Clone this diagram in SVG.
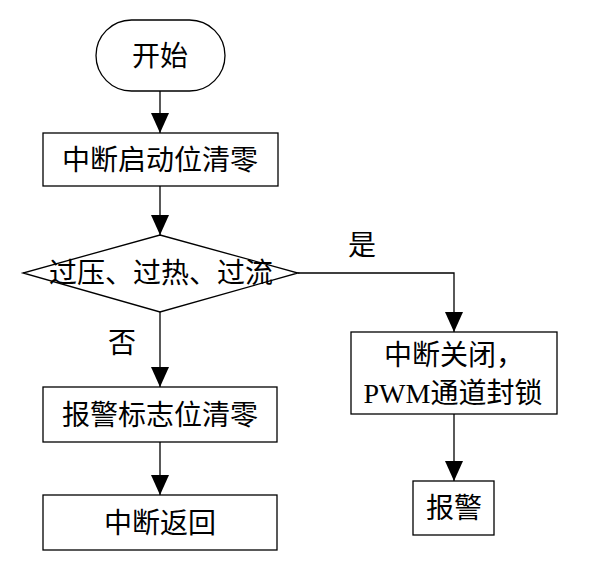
<svg xmlns="http://www.w3.org/2000/svg" width="589" height="571" viewBox="0 0 589 571">
<defs>
<style>
.shape{fill:#fff;stroke:#000;stroke-width:1.3}
.t{font-family:"Liberation Serif","Noto Sans CJK SC",serif;font-size:28px;fill:#000;text-anchor:middle;dominant-baseline:central}
.c{fill:none;stroke:#000;stroke-width:1.3}
</style>
<marker id="arr" markerUnits="userSpaceOnUse" markerWidth="20" markerHeight="20" viewBox="0 0 20 18" refX="20" refY="9" orient="auto">
<path d="M0,0 L20,9 L0,18 Z" fill="#000"/>
</marker>
</defs>
<g id="connectors">
<path class="c" d="M160,91 V133" marker-end="url(#arr)"/>
<path class="c" d="M160,186 V235" marker-end="url(#arr)"/>
<path class="c" d="M160,312 V387" marker-end="url(#arr)"/>
<path class="c" d="M160,442 V495" marker-end="url(#arr)"/>
<path class="c" d="M298,273 H454 V332" marker-end="url(#arr)"/>
<path class="c" d="M454,414 V481" marker-end="url(#arr)"/>
<text class="t" x="362" y="245">是</text>
<text class="t" x="122" y="343">否</text>
</g>
<g id="start">
<rect class="shape" x="96" y="20" width="129" height="71" rx="35.5" ry="35.5"/>
<text class="t" x="160" y="56">开始</text>
</g>
<g id="clear">
<rect class="shape" x="43" y="133" width="235" height="53"/>
<text class="t" x="160" y="160">中断启动位清零</text>
</g>
<g id="decision">
<polygon class="shape" points="160,235 298,273 160,312 23,273"/>
<text class="t" x="161" y="273">过压、过热、过流</text>
</g>
<g id="close">
<rect class="shape" x="351" y="332" width="206" height="82"/>
<text class="t" x="454" y="355">中断关闭，</text>
<text class="t" x="453" y="393">PWM通道封锁</text>
</g>
<g id="alarmclear">
<rect class="shape" x="43" y="387" width="234" height="55"/>
<text class="t" x="160" y="415">报警标志位清零</text>
</g>
<g id="return">
<rect class="shape" x="43" y="495" width="234" height="55"/>
<text class="t" x="160" y="523">中断返回</text>
</g>
<g id="alarm">
<rect class="shape" x="413" y="481" width="81" height="54"/>
<text class="t" x="454" y="508">报警</text>
</g>
</svg>
